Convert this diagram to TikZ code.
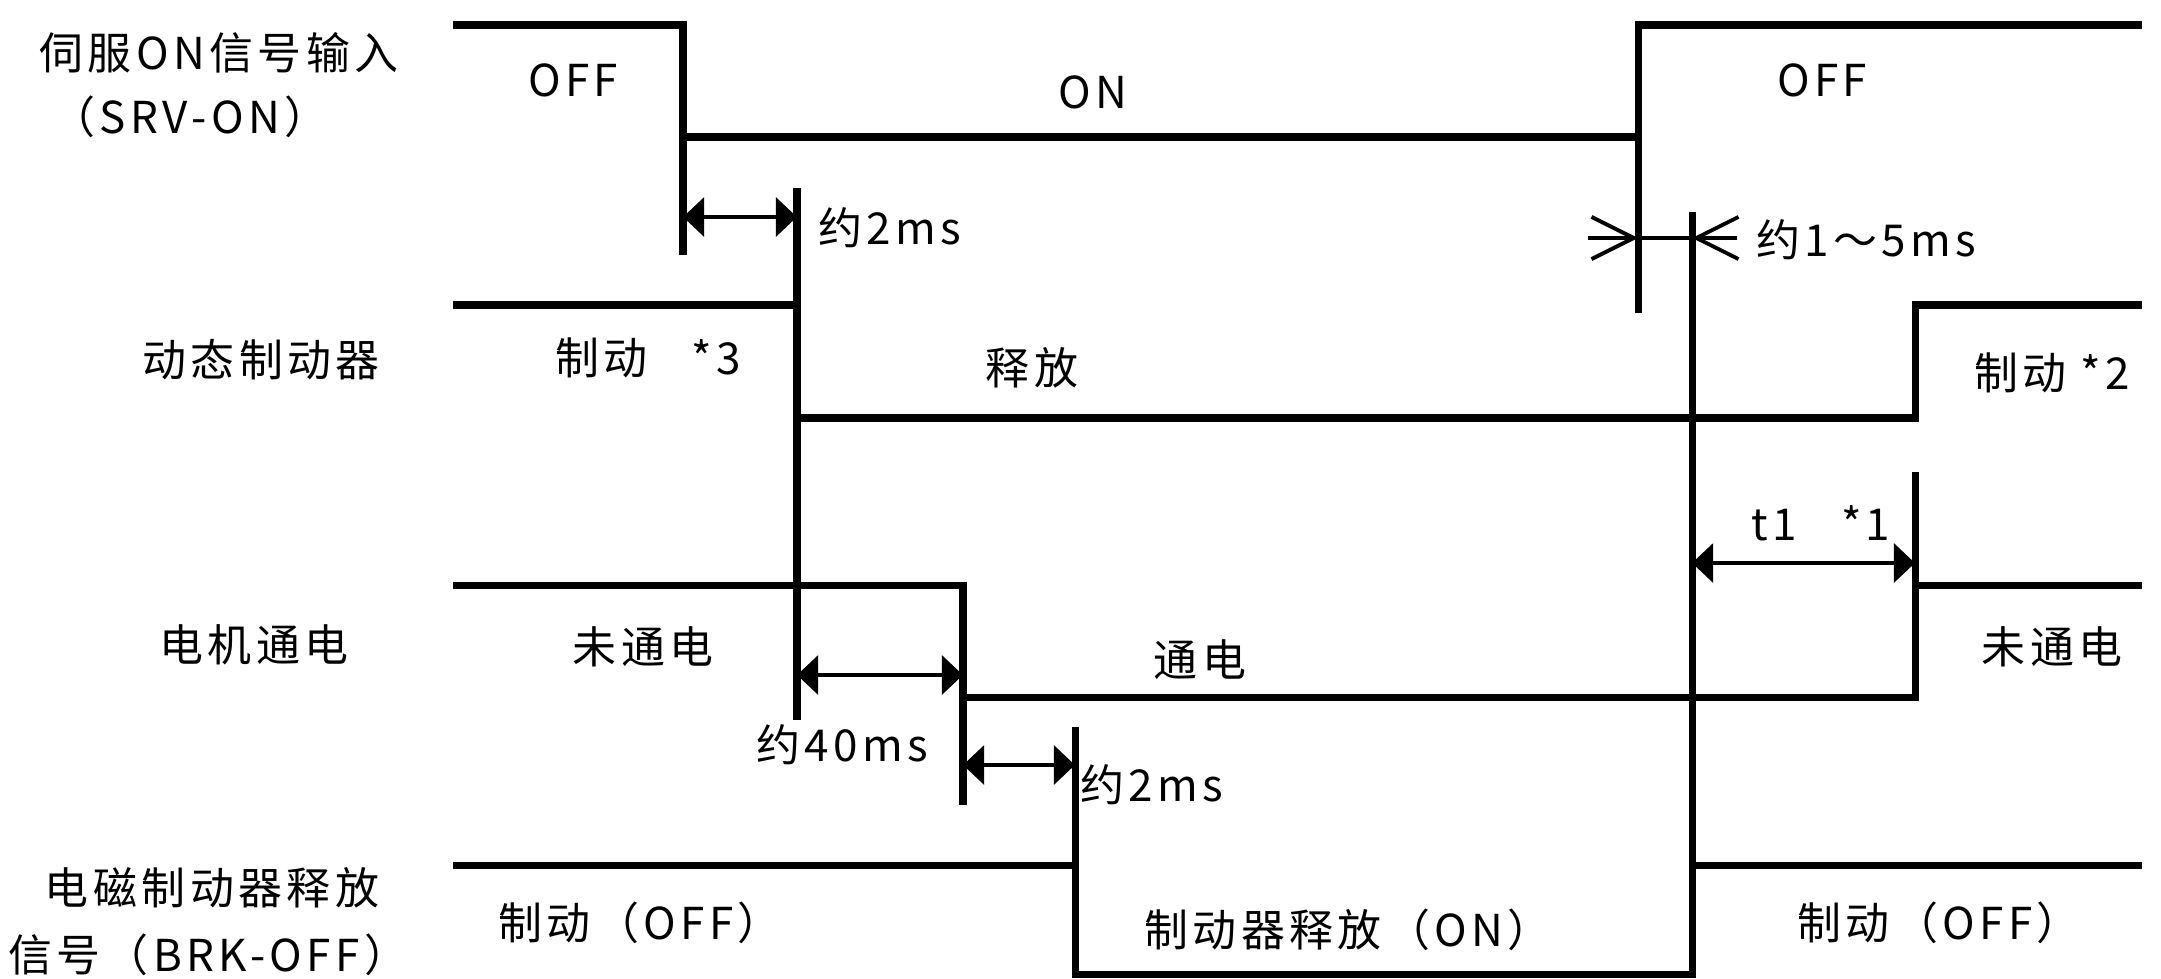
\documentclass[tikz,border=0pt]{standalone}
\usepackage{fontspec}
\setmainfont{Noto Sans CJK SC}[LetterSpace=10]
\usepackage{tikz}
\usetikzlibrary{arrows.meta}

\tikzset{
  sig/.style={line width=2pt},
  dim/.style={line width=1.2pt, {Triangle[length=6pt, width=11pt]}-{Triangle[length=6pt, width=11pt]}},
  barb/.style={line width=1.1pt, -{Straight Barb[length=12pt, width=12pt]}},
  lbl/.style={font=\fontsize{12.5pt}{15pt}\selectfont, inner sep=0pt}
}

\begin{document}
\begin{tikzpicture}[x=0.01cm, y=-0.01cm]
    \useasboundingbox (0,0) rectangle (2161,978);

    % signal names
    \node[lbl] (srvName) at (219,53) {伺服ON信号输入};
    \node[lbl] (srvCode) at (190,117) {（SRV-ON）};
    \node[lbl] (dbName) at (261,360) {动态制动器};
    \node[lbl] (motName) at (254,645) {电机通电};
    \node[lbl] (brkName) at (212,888) {电磁制动器释放};
    \node[lbl] (brkCode) at (208,955) {信号（BRK-OFF）};

    % SRV-ON
    \draw[sig] (453,25) -- (683,25) -- (683,255);
    \draw[sig] (683,137) -- (1638,137);
    \draw[sig] (1638,313) -- (1638,25) -- (2142,25);
    \node[lbl] (srvOff1) at (573,80) {OFF};
    \node[lbl] (srvOn) at (1093,92) {ON};
    \node[lbl] (srvOff2) at (1822,80) {OFF};

    % dynamic brake
    \draw[sig] (453,305) -- (797,305);
    \draw[sig] (797,188) -- (797,720);
    \draw[sig] (797,418) -- (1915,418) -- (1915,305) -- (2142,305);
    \node[lbl] (dbBrake1) at (648,358) {制动\quad *3};
    \node[lbl] (dbFree) at (1032,368) {释放};
    \node[lbl] (dbBrake2) at (2052,373) {制动 *2};

    % motor power
    \draw[sig] (453,585) -- (963,585) -- (963,805);
    \draw[sig] (963,697) -- (1915,697) -- (1915,472);
    \draw[sig] (1915,585) -- (2142,585);
    \node[lbl] (motOff1) at (643,647) {未通电};
    \node[lbl] (motOn) at (1200,660) {通电};
    \node[lbl] (motOff2) at (2052,647) {未通电};

    % BRK-OFF
    \draw[sig] (453,865) -- (1075,865);
    \draw[sig] (1075,727) -- (1075,974) -- (1692,974) -- (1692,212);
    \draw[sig] (1692,865) -- (2142,865);
    \node[lbl] (brkOff1) at (640,923) {制动（OFF）};
    \node[lbl] (brkOn) at (1348,930) {制动器释放（ON）};
    \node[lbl] (brkOff2) at (1939,923) {制动（OFF）};

    % delays
    \coordinate (srvGo) at (683,217);
    \coordinate (dbGo) at (797,217);
    \draw[dim] (srvGo) -- (dbGo);
    \node[lbl] (t2ms) at (890,228) {约2ms};

    \coordinate (dbGo2) at (797,675);
    \coordinate (motGo) at (963,675);
    \draw[dim] (dbGo2) -- (motGo);
    \node[lbl] (t40ms) at (842,745) {约40ms};

    \coordinate (motGo2) at (963,765);
    \coordinate (brkGo) at (1075,765);
    \draw[dim] (motGo2) -- (brkGo);
    \node[lbl] (t2msB) at (1152,785) {约2ms};

    \coordinate (srvStop) at (1638,238);
    \coordinate (brkStop) at (1692,238);
    \coordinate (srvStopTail) at (1588,238);
    \coordinate (brkStopTail) at (1737,238);
    \draw[barb] (srvStopTail) -- (srvStop);
    \draw[line width=1.1pt] (srvStop) -- (brkStop);
    \draw[barb] (brkStopTail) -- (brkStop);
    \node[lbl] (t5ms) at (1866,240) {约1～5ms};

    \coordinate (brkStop2) at (1692,563);
    \coordinate (motStop) at (1915,563);
    \draw[dim] (brkStop2) -- (motStop);
    \node[lbl] (tOne) at (1821,523) {t1\quad *1};
\end{tikzpicture}
\end{document}
